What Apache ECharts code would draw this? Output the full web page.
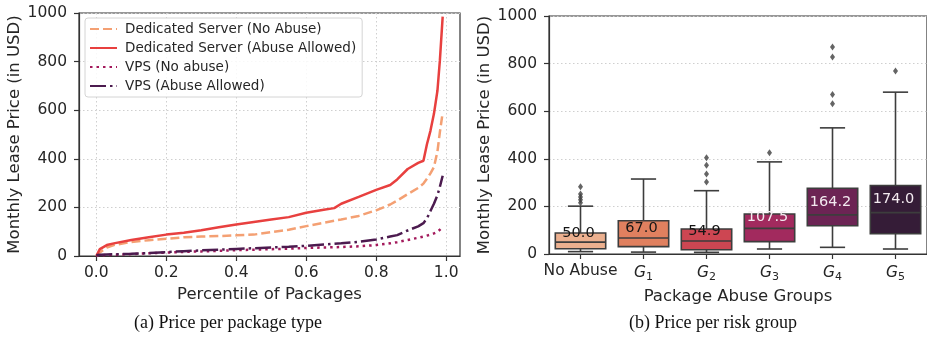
<!DOCTYPE html>
<html>
<head>
<meta charset="utf-8">
<script src="https://cdn.jsdelivr.net/npm/echarts@6/dist/echarts.min.js"></script>
<style>
  html, body { margin: 0; padding: 0; background: #fff; }
  #chart { width: 927px; height: 339px; }
</style>
</head>
<body>
<div id="chart"></div>
<script>
// (a) price per package type
var percentiles = [0, 0.01, 0.03, 0.05, 0.1, 0.15, 0.2, 0.25, 0.3, 0.35, 0.4, 0.45, 0.5, 0.55, 0.6, 0.65, 0.68, 0.7, 0.75, 0.8, 0.84, 0.86, 0.89, 0.92, 0.935, 0.945, 0.955, 0.965, 0.975, 0.982, 0.99];
var dedicatedNoAbuse = [0, 15, 35, 45, 58, 65, 71, 77, 80, 82, 85, 88, 98, 108, 123, 137, 145, 150, 165, 188, 212, 228, 255, 280, 298, 318, 340, 366, 430, 510, 590];
var dedicatedAbuse = [0, 28, 45, 52, 66, 77, 88, 96, 106, 118, 130, 140, 150, 160, 178, 190, 197, 215, 243, 272, 292, 315, 358, 383, 392, 460, 515, 585, 680, 805, 985];
var vpsNoAbuse = [2, 3, 4, 5, 8, 11, 14, 17, 19, 21, 24, 26, 28, 30, 33, 35, 36, 37, 40, 45, 52, 57, 66, 75, 80, 84, 88, 93, 100, 108, 120];
var vpsAbuse = [3, 5, 6, 7, 9, 12, 16, 20, 23, 26, 29, 32, 35, 38, 42, 47, 50, 52, 58, 68, 80, 86, 105, 122, 135, 155, 185, 215, 250, 285, 330];
var xTicks = [0, 0.2, 0.4, 0.6, 0.8, 1.0];

// (b) price per risk group
var groups = ['No Abuse', 'G1', 'G2', 'G3', 'G4', 'G5'];
// low whisker, q1, median, q3, high whisker
var boxStats = [
  [10, 22, 50.0, 88, 201],
  [8, 31, 67.0, 140, 315],
  [7, 18, 54.9, 105, 266],
  [21, 52, 107.5, 168, 387],
  [28, 119, 164.2, 276, 530],
  [21, 85, 174.0, 288, 680]
];
var outliers = [
  [0, 215], [0, 228], [0, 240], [0, 252], [0, 283],
  [2, 302], [2, 336], [2, 373], [2, 404],
  [3, 425],
  [4, 631], [4, 670], [4, 828], [4, 870],
  [5, 769]
];
var boxColors = ['#ecb08f', '#e0805f', '#cd4652', '#a22a5e', '#6c2454', '#351c37'];

var FONT = '"DejaVu Sans", sans-serif';
var TEXT = '#262626';
var EDGE = '#3d3d3d';

function zip(xs, ys) {
  return xs.map(function (x, i) { return [x, ys[i]]; });
}

function renderBox(params, api) {
  var idx = api.value(0);
  var med = api.value(3);
  var bandW = api.size([1, 0])[0];
  var halfBox = bandW * 0.4;
  var halfCap = bandW * 0.2;
  var x = api.coord([idx, med])[0];
  var yLow = api.coord([idx, api.value(1)])[1];
  var yQ1 = api.coord([idx, api.value(2)])[1];
  var yMed = api.coord([idx, med])[1];
  var yQ3 = api.coord([idx, api.value(4)])[1];
  var yHigh = api.coord([idx, api.value(5)])[1];
  var yLabel = api.coord([idx, med * 1.14])[1];
  var edge = { stroke: EDGE, lineWidth: 1.6 };
  return {
    type: 'group',
    children: [
      { type: 'line', shape: { x1: x, y1: yLow, x2: x, y2: yQ1 }, style: edge },
      { type: 'line', shape: { x1: x, y1: yQ3, x2: x, y2: yHigh }, style: edge },
      { type: 'line', shape: { x1: x - halfCap, y1: yLow, x2: x + halfCap, y2: yLow }, style: edge },
      { type: 'line', shape: { x1: x - halfCap, y1: yHigh, x2: x + halfCap, y2: yHigh }, style: edge },
      { type: 'rect', shape: { x: x - halfBox, y: yQ3, width: halfBox * 2, height: yQ1 - yQ3 },
        style: { fill: boxColors[idx], stroke: EDGE, lineWidth: 1.6 } },
      { type: 'line', shape: { x1: x - halfBox, y1: yMed, x2: x + halfBox, y2: yMed }, style: edge },
      { type: 'text', x: x - 2, y: yLabel,
        style: { text: med.toFixed(1), fill: idx < 3 ? '#151515' : '#f3eaf0',
                 fontSize: 14.5, fontFamily: FONT, align: 'center', verticalAlign: 'bottom' } }
    ]
  };
}

var axisCommon = {
  axisLine: { show: true, onZero: false, lineStyle: { color: '#333', width: 1.2 } },
  axisTick: { show: true, length: 5, lineStyle: { color: '#333', width: 1.2 } },
  axisLabel: { color: TEXT, fontSize: 15.5, fontFamily: FONT },
  nameTextStyle: { color: TEXT, fontSize: 16.5, fontFamily: FONT }
};
var gridDots = { lineStyle: { color: '#cfcfcf', width: 1, type: [1.5, 2.5] } };
var plainNumber = function (v) { return String(v); };

var chart = echarts.init(document.getElementById('chart'));
var option = {
  animation: false,
  backgroundColor: '#fff',
  grid: [
    { left: 79, top: 13, width: 381, height: 243, show: true, borderColor: '#333', borderWidth: 1.2 },
    { left: 549, top: 16, width: 380, height: 238, show: true, borderColor: '#333', borderWidth: 1.2 }
  ],
  legend: {
    data: ['Dedicated Server (No Abuse)', 'Dedicated Server (Abuse Allowed)', 'VPS (No abuse)', 'VPS (Abuse Allowed)'],
    orient: 'vertical',
    left: 85,
    top: 18,
    itemWidth: 27,
    itemHeight: 14,
    itemGap: 5,
    padding: [4, 6, 4, 4],
    borderColor: '#d4d4d4',
    borderWidth: 1,
    borderRadius: 3,
    backgroundColor: 'rgba(255,255,255,0.85)',
    itemStyle: { opacity: 0 },
    textStyle: { color: TEXT, fontSize: 13.5, fontFamily: FONT, padding: [0, 0, 0, 3] }
  },
  xAxis: [
    echarts.util.merge({
      gridIndex: 0, type: 'value', min: -0.0495, max: 1.0395,
      name: 'Percentile of Packages', nameLocation: 'middle', nameGap: 28,
      axisLabel: { customValues: xTicks, margin: 9, formatter: function (v) { return v.toFixed(1); } },
      axisTick: { customValues: xTicks },
      splitLine: echarts.util.merge({ show: true }, gridDots)
    }, axisCommon),
    echarts.util.merge({
      gridIndex: 1, type: 'category', data: groups, boundaryGap: true,
      name: 'Package Abuse Groups', nameLocation: 'middle', nameGap: 28,
      axisTick: { alignWithLabel: true },
      axisLabel: {
        margin: 9,
        interval: 0,
        formatter: function (v) { return v === 'No Abuse' ? v : '{g|G}{s|' + v.slice(1) + '}'; },
        rich: {
          g: { fontSize: 15.5, fontStyle: 'italic', fontFamily: FONT, color: TEXT },
          s: { fontSize: 11, fontFamily: FONT, color: TEXT, padding: [9, 0, 0, 0] }
        }
      },
      splitLine: { show: false }
    }, axisCommon)
  ],
  yAxis: [
    echarts.util.merge({
      gridIndex: 0, type: 'value', min: 0, max: 1000, interval: 200,
      name: 'Monthly Lease Price (in USD)', nameLocation: 'middle', nameGap: 53,
      axisLabel: { margin: 12, formatter: plainNumber },
      splitLine: echarts.util.merge({ show: true }, gridDots)
    }, axisCommon),
    echarts.util.merge({
      gridIndex: 1, type: 'value', min: 0, max: 1000, interval: 200,
      name: 'Monthly Lease Price (in USD)', nameLocation: 'middle', nameGap: 53,
      axisLabel: { margin: 12, formatter: plainNumber },
      splitLine: echarts.util.merge({ show: true }, gridDots)
    }, axisCommon)
  ],
  series: [
    {
      name: 'Dedicated Server (No Abuse)', type: 'line', xAxisIndex: 0, yAxisIndex: 0,
      symbol: 'none', showSymbol: false, data: zip(percentiles, dedicatedNoAbuse),
      itemStyle: { color: '#f4a073' },
      lineStyle: { color: '#f4a073', width: 2.5, type: [9, 4] }
    },
    {
      name: 'Dedicated Server (Abuse Allowed)', type: 'line', xAxisIndex: 0, yAxisIndex: 0,
      symbol: 'none', showSymbol: false, data: zip(percentiles, dedicatedAbuse),
      itemStyle: { color: '#e8403f' },
      lineStyle: { color: '#e8403f', width: 2.5 }
    },
    {
      name: 'VPS (No abuse)', type: 'line', xAxisIndex: 0, yAxisIndex: 0,
      symbol: 'none', showSymbol: false, data: zip(percentiles, vpsNoAbuse),
      itemStyle: { color: '#a3195b' },
      lineStyle: { color: '#a3195b', width: 2.5, type: [2.5, 4] }
    },
    {
      name: 'VPS (Abuse Allowed)', type: 'line', xAxisIndex: 0, yAxisIndex: 0,
      symbol: 'none', showSymbol: false, data: zip(percentiles, vpsAbuse),
      itemStyle: { color: '#4c1b4f' },
      lineStyle: { color: '#4c1b4f', width: 2.5, type: [16, 4, 2.5, 4] }
    },
    {
      type: 'custom', xAxisIndex: 1, yAxisIndex: 1,
      renderItem: renderBox,
      encode: { x: 0, y: [1, 2, 3, 4, 5] },
      data: boxStats.map(function (s, i) { return [i].concat(s); }),
      z: 3
    },
    {
      type: 'scatter', xAxisIndex: 1, yAxisIndex: 1,
      symbol: 'diamond', symbolSize: [5, 7],
      itemStyle: { color: EDGE },
      data: outliers,
      z: 4
    }
  ],
  graphic: [
    { type: 'text', x: 228, y: 323,
      style: { text: '(a) Price per package type', fill: '#111', fontSize: 18, fontFamily: '"Liberation Serif", serif', align: 'center', verticalAlign: 'middle' } },
    { type: 'text', x: 713, y: 323,
      style: { text: '(b) Price per risk group', fill: '#111', fontSize: 18, fontFamily: '"Liberation Serif", serif', align: 'center', verticalAlign: 'middle' } }
  ]
};
chart.setOption(option);
</script>
</body>
</html>
